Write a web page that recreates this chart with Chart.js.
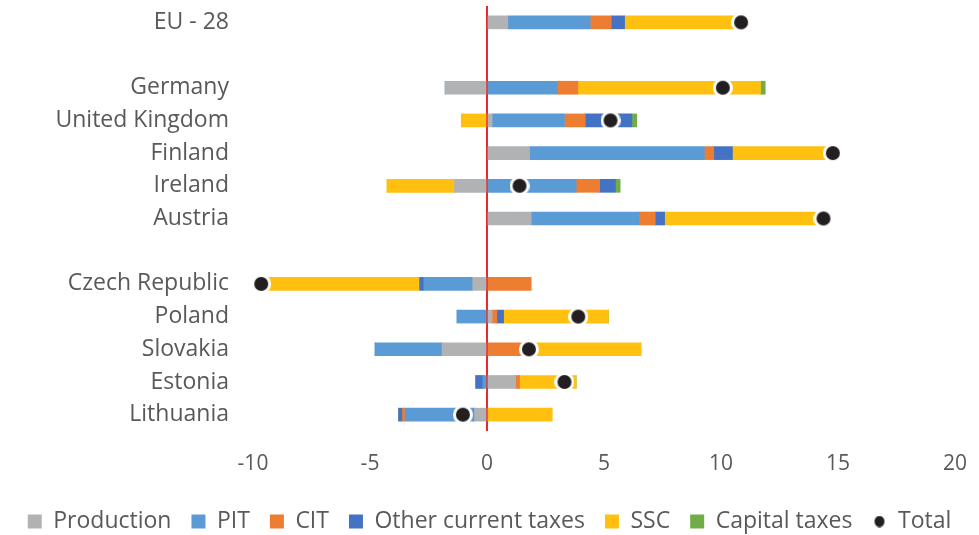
<!DOCTYPE html>
<html>
<head>
<meta charset="utf-8">
<script src="https://cdn.jsdelivr.net/npm/chart.js@4.4.1/dist/chart.umd.min.js"></script>
<style>
  html, body { margin: 0; padding: 0; background: #fff; }
  #wrap { width: 979px; height: 535px; }
</style>
</head>
<body>
<div id="wrap"><canvas id="chart"></canvas></div>
<script>
// Категории (пустые строки — разделители групп)
const countries = ['EU - 28', '', 'Germany', 'United Kingdom', 'Finland', 'Ireland', 'Austria', '',
  'Czech Republic', 'Poland', 'Slovakia', 'Estonia', 'Lithuania'];

// Вклад отдельных налогов
const production   = [0.89, null, -1.79, 0.22, 1.82, -1.39, 1.89, null, -0.61, 0.22, -1.92, 1.22, -0.53];
const pit          = [3.52, null, 3.00, 3.09, 7.47, 3.81, 4.60, null, -2.09, -1.29, -2.86, -0.18, -2.97];
const cit          = [0.90, null, 0.88, 0.89, 0.40, 1.00, 0.70, null, 1.89, 0.20, 1.55, 0.17, -0.11];
const otherCurrent = [0.57, null, 0, 1.99, 0.80, 0.68, 0.40, null, -0.18, 0.29, 0, -0.31, -0.17];
const ssc          = [4.98, null, 7.81, -1.10, 4.29, -2.89, 6.79, null, -6.77, 4.48, 5.04, 2.42, 2.79];
const capital      = [0, null, 0.20, 0.21, 0, 0.20, 0, null, 0, 0, 0, 0, 0];
const total        = [10.86, null, 10.08, 5.28, 14.78, 1.39, 14.38, null, -9.65, 3.90, 1.79, 3.31, -1.03];

const xTicks = [-10, -5, 0, 5, 10, 15, 20];

const textColor = '#595959';
const fontFamily = '"Open Sans", Lato, sans-serif';
const dotColor = '#231f20';

function barSet(label, data, color) {
  return {
    type: 'bar',
    label: label,
    data: data,
    backgroundColor: color,
    borderWidth: 0,
    barThickness: 13,
    order: 1
  };
}

// Маркер "Total": чёрная точка с белой обводкой
// (картинка, чтобы радиус точки не добавлял отступы вокруг графика)
function totalMarker() {
  const c = document.createElement('canvas');
  c.width = 20;
  c.height = 20;
  const g = c.getContext('2d');
  g.fillStyle = '#ffffff';
  g.beginPath();
  g.arc(10, 10, 10, 0, Math.PI * 2);
  g.fill();
  g.fillStyle = dotColor;
  g.beginPath();
  g.arc(10, 10, 7, 0, Math.PI * 2);
  g.fill();
  return c;
}

// Маленький кружок для легенды "Total"
function legendDot() {
  const c = document.createElement('canvas');
  c.width = 12;
  c.height = 12;
  const g = c.getContext('2d');
  g.fillStyle = dotColor;
  g.beginPath();
  g.ellipse(6, 6, 5, 5.8, 0, 0, Math.PI * 2);
  g.fill();
  return c;
}

const ctx = document.getElementById('chart').getContext('2d');
new Chart(ctx, {
  data: {
    labels: countries,
    datasets: [
      barSet('Production', production, '#b1b2b3'),
      barSet('PIT', pit, '#5b9bd5'),
      barSet('CIT', cit, '#ed7d31'),
      barSet('Other current taxes', otherCurrent, '#4472c4'),
      barSet('SSC', ssc, '#ffc010'),
      barSet('Capital taxes', capital, '#70ad47'),
      {
        type: 'line',
        label: 'Total',
        data: total,
        stack: 'total',
        showLine: false,
        clip: false,
        pointStyle: totalMarker(),
        pointRadius: 0.5,
        pointHoverRadius: 0.5,
        pointBorderWidth: 0,
        backgroundColor: dotColor,
        borderColor: dotColor,
        borderWidth: 0,
        order: 0
      }
    ]
  },
  options: {
    indexAxis: 'y',
    responsive: true,
    maintainAspectRatio: false,
    animation: false,
    layout: { padding: { top: 6, right: 0, left: 0, bottom: -8 } },
    scales: {
      x: {
        stacked: true,
        min: -10,
        max: 20,
        afterBuildTicks: (scale) => { scale.ticks = xTicks.map(v => ({ value: v })); },
        afterFit: (scale) => {
          scale.height = 59;
          scale.paddingLeft = 0;
          scale.paddingRight = 0;
        },
        border: { display: false },
        grid: {
          drawTicks: false,
          lineWidth: 2,
          color: (c) => (c.tick && c.tick.value === 0 ? '#e8282b' : 'rgba(0,0,0,0)')
        },
        ticks: {
          color: textColor,
          padding: 20,
          font: { family: fontFamily, size: 21 }
        }
      },
      y: {
        stacked: true,
        afterFit: (scale) => {
          scale.width = 253;
          scale.paddingTop = 0;
          scale.paddingBottom = 0;
        },
        border: { display: false },
        grid: { display: false },
        ticks: {
          color: textColor,
          padding: 16,
          autoSkip: false,
          font: { family: fontFamily, size: 23 }
        }
      },
      // пустая ось справа — только отступ, чтобы легенда получила всю ширину
      yRight: {
        type: 'category',
        position: 'right',
        afterFit: (scale) => {
          scale.width = 24;
          scale.paddingTop = 0;
          scale.paddingBottom = 0;
        },
        border: { display: false },
        grid: { display: false },
        ticks: { display: false }
      }
    },
    plugins: {
      tooltip: { enabled: false },
      legend: {
        position: 'bottom',
        labels: {
          color: textColor,
          font: { family: fontFamily, size: 23 },
          boxWidth: 14,
          boxHeight: 14,
          padding: 20,
          usePointStyle: true,
          sort: (a, b) => a.datasetIndex - b.datasetIndex,
          generateLabels: (chart) => {
            const items = Chart.defaults.plugins.legend.labels.generateLabels(chart);
            items.forEach(item => {
              item.lineWidth = 0;
              item.pointStyle = item.text === 'Total' ? legendDot() : 'rect';
            });
            return items;
          }
        }
      }
    }
  }
});
</script>
</body>
</html>
